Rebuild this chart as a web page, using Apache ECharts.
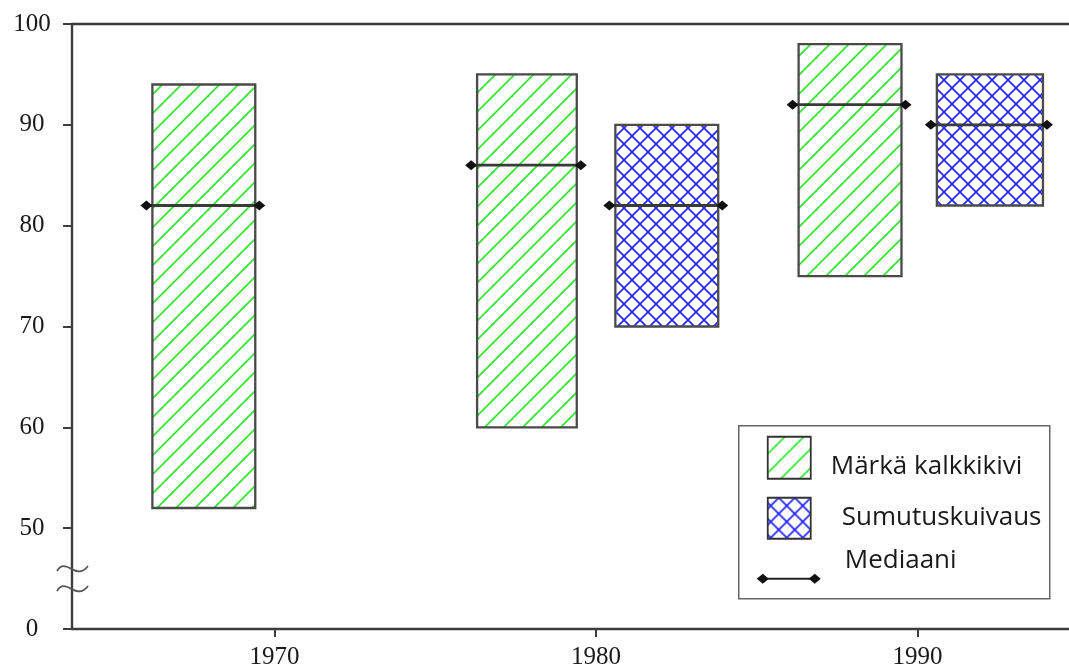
<!DOCTYPE html>
<html>
<head>
<meta charset="utf-8">
<script src="https://cdn.jsdelivr.net/npm/echarts@6/dist/echarts.min.js"></script>
<style>
html,body{margin:0;padding:0;background:#fff;}
#chart{width:1069px;height:670px;}
</style>
</head>
<body>
<div id="chart"></div>
<script>
// ---- data ----
var xTickYears = [1970, 1980, 1990];
var yTickValues = [40, 50, 60, 70, 80, 90, 100];       // 40 is shown as "0" (broken axis)
var seriesNames = ['Märkä kalkkikivi', 'Sumutuskuivaus', 'Mediaani'];
// Märkä kalkkikivi (wet limestone): period start/end years, min, max, median
var wetStart  = [1966.2, 1976.3, 1986.3];
var wetEnd    = [1969.4, 1979.4, 1989.5];
var wetLow    = [52, 60, 75];
var wetHigh   = [94, 95, 98];
var wetMedian = [82, 86, 92];
// Sumutuskuivaus (spray drying)
var sprayStart  = [1980.6, 1990.6];
var sprayEnd    = [1983.8, 1993.9];
var sprayLow    = [70, 82];
var sprayHigh   = [90, 95];
var sprayMedian = [82, 90];

function zip(a, b, c, d, e) {
  return a.map(function (v, i) { return [a[i], b[i], c[i], d[i], e[i]]; });
}

// ---- patterns ----
function makeHatch(P, color, lw, cross) {
  var c = document.createElement('canvas');
  c.width = P; c.height = P;
  var g = c.getContext('2d');
  g.strokeStyle = color; g.lineWidth = lw; g.lineCap = 'square';
  function seg(x1, y1, x2, y2) { g.beginPath(); g.moveTo(x1, y1); g.lineTo(x2, y2); g.stroke(); }
  seg(0, P, P, 0); seg(-P, P, P, -P); seg(0, 2 * P, 2 * P, 0);
  if (cross) { seg(0, 0, P, P); seg(-P, 0, P, 2 * P); seg(0, -P, 2 * P, P); }
  return c;
}
var greenPat = { type: 'pattern', image: makeHatch(19, '#33e633', 1.8, false), repeat: 'repeat' };
var bluePat  = { type: 'pattern', image: makeHatch(16, '#2424ff', 1.7, true), repeat: 'repeat' };

var edge = '#4a4a4a';
var axisCol = '#3d3d3d';
var txtCol = '#1a1a1a';

function diamond(cx, cy) {
  return { type: 'polygon', shape: { points: [[cx - 6, cy], [cx, cy - 5], [cx + 6, cy], [cx, cy + 5]] },
           style: { fill: '#111' }, z2: 12 };
}

function makeRender(pat) {
  return function (params, api) {
    var tl = api.coord([api.value(0), api.value(3)]);
    var br = api.coord([api.value(1), api.value(2)]);
    var ym = api.coord([api.value(0), api.value(4)])[1];
    var xl = tl[0] - 6, xr = br[0] + 4;
    return {
      type: 'group',
      children: [
        { type: 'rect', shape: { x: tl[0], y: tl[1], width: br[0] - tl[0], height: br[1] - tl[1] },
          style: { fill: pat, stroke: edge, lineWidth: 2.3 }, z2: 5 },
        { type: 'line', shape: { x1: xl, y1: ym, x2: xr, y2: ym },
          style: { stroke: '#3a3a3a', lineWidth: 2.8 }, z2: 10 },
        diamond(xl, ym), diamond(xr, ym)
      ]
    };
  };
}

var chart = echarts.init(document.getElementById('chart'), null, { renderer: 'canvas' });

var xMin = 1963.7, xMax = 1994.71;

var option = {
  animation: false,
  backgroundColor: '#fff',
  grid: { left: 72, right: 0, top: 24, bottom: 41, containLabel: false },
  xAxis: [{
    type: 'value', min: xMin, max: xMax,
    splitLine: { show: false },
    axisLine: { show: true, onZero: false, lineStyle: { color: axisCol, width: 2.4 } },
    axisTick: { show: true, length: 8, inside: false, customValues: xTickYears, lineStyle: { color: axisCol, width: 2 } },
    axisLabel: { show: true, customValues: xTickYears, margin: 16, color: txtCol,
      fontFamily: 'Liberation Serif', fontSize: 25, formatter: function (v) { return String(v); } }
  }, {
    type: 'value', position: 'top', min: xMin, max: xMax,
    splitLine: { show: false },
    axisLine: { show: true, onZero: false, lineStyle: { color: axisCol, width: 2.4 } },
    axisTick: { show: false }, axisLabel: { show: false }
  }],
  yAxis: {
    type: 'value', min: 40, max: 100, interval: 10,
    splitLine: { show: false },
    axisLine: { show: true, onZero: false, lineStyle: { color: axisCol, width: 2.4 } },
    axisTick: { show: true, length: 9, lineStyle: { color: axisCol, width: 2 } },
    axisLabel: { margin: 40, align: 'center', color: txtCol, fontFamily: 'Liberation Serif', fontSize: 25,
      formatter: function (v) { return v === 40 ? '0' : String(v); } }
  },
  series: [{
    name: seriesNames[0], type: 'custom', xAxisIndex: 0,
    renderItem: makeRender(greenPat),
    encode: { x: [0, 1], y: [2, 3, 4] },
    data: zip(wetStart, wetEnd, wetLow, wetHigh, wetMedian)
  }, {
    name: seriesNames[1], type: 'custom', xAxisIndex: 0,
    renderItem: makeRender(bluePat),
    encode: { x: [0, 1], y: [2, 3, 4] },
    data: zip(sprayStart, sprayEnd, sprayLow, sprayHigh, sprayMedian)
  }]
};
chart.setOption(option);

// axis break marks and legend (decoration)
var axX = chart.convertToPixel({ yAxisIndex: 0 }, 40) ; // y of "0"
var x0 = chart.convertToPixel({ xAxisIndex: 0 }, xMin);
function tilde(cy) {
  return { type: 'bezierCurve', shape: { x1: x0 - 15, y1: cy + 3, cpx1: x0 - 6, cpy1: cy - 12, cpx2: x0 + 4, cpy2: cy + 14, x2: x0 + 16, y2: cy - 2 },
           style: { stroke: '#555', lineWidth: 1.8, fill: null }, z: 20 };
}
var lgX = 738, lgY = 425;
var lgFont = '26px "Open Sans"';
chart.setOption({
  graphic: [
    tilde(axX - 61), tilde(axX - 41),
    { type: 'group', left: lgX, top: lgY, z: 30, children: [
      { type: 'rect', shape: { x: 0, y: 0, width: 311, height: 173 }, style: { fill: '#fff', stroke: '#666', lineWidth: 1.5 } },
      { type: 'rect', shape: { x: 29, y: 11, width: 43, height: 42 }, style: { fill: greenPat, stroke: '#333', lineWidth: 1.8 } },
      { type: 'text', x: 92, y: 41, style: { text: seriesNames[0], fill: txtCol, font: lgFont, textVerticalAlign: 'middle' } },
      { type: 'rect', shape: { x: 29, y: 72, width: 43, height: 41 }, style: { fill: bluePat, stroke: '#333', lineWidth: 1.8 } },
      { type: 'text', x: 103, y: 92, style: { text: seriesNames[1], fill: txtCol, font: lgFont, textVerticalAlign: 'middle' } },
      { type: 'text', x: 106, y: 135, style: { text: seriesNames[2], fill: txtCol, font: lgFont, textVerticalAlign: 'middle' } },
      { type: 'line', shape: { x1: 24, y1: 153, x2: 76, y2: 153 }, style: { stroke: '#222', lineWidth: 2.2 } },
      { type: 'polygon', shape: { points: [[18, 153], [24, 148], [30, 153], [24, 158]] }, style: { fill: '#111' } },
      { type: 'polygon', shape: { points: [[70, 153], [76, 148], [82, 153], [76, 158]] }, style: { fill: '#111' } }
    ] }
  ]
});
</script>
</body>
</html>
